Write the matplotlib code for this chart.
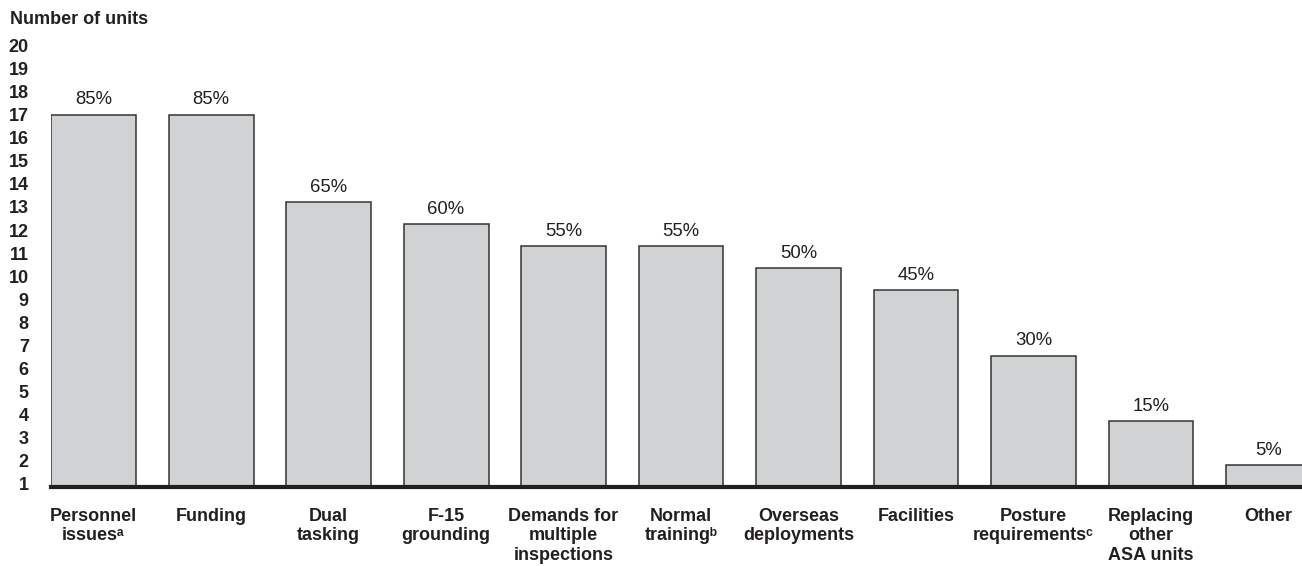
import matplotlib
matplotlib.use('Agg')
import matplotlib.pyplot as plt
import numpy as np

plt.rcParams['font.family'] = ['Liberation Sans', 'DejaVu Sans']

# Data: number of units (out of 20) citing each factor
categories = [
    'Personnel\nissues\u1d43',
    'Funding',
    'Dual\ntasking',
    'F-15\ngrounding',
    'Demands for\nmultiple\ninspections',
    'Normal\ntraining\u1d47',
    'Overseas\ndeployments',
    'Facilities',
    'Posture\nrequirements\u1d9c',
    'Replacing\nother\nASA units',
    'Other',
]
units = [17, 17, 13, 12, 11, 11, 10, 9, 6, 3, 1]
total_units = 20
tick_labels = [str(k) for k in range(1, 21)]

W, H = 1302, 566
fig = plt.figure(figsize=(W / 100, H / 100), dpi=100)
ax = fig.add_axes([51 / W, (H - 487) / H, 1251 / W, (487 - 38) / H])

x = np.arange(len(categories))
bars = ax.bar(x, units, width=0.723, color='#d1d2d4',
              edgecolor='#333333', linewidth=1.1, zorder=2)

# percentage labels above bars
for b, u in zip(bars, units):
    ax.annotate(f'{u / total_units * 100:.0f}%',
                (b.get_x() + b.get_width() / 2, b.get_height()),
                xytext=(0, 4.5), textcoords='offset points',
                ha='center', va='bottom', fontsize=13.3, color='#231f20')

ax.set_xlim(-0.362, 10.285)
ax.set_ylim(0, 20.5)

# thick baseline
ax.axhline(0, color='#231f20', linewidth=3, zorder=3, clip_on=False)

ax.set_xticks(x)
ax.set_xticklabels(categories, fontsize=13, fontweight='bold',
                   color='#231f20', va='top', linespacing=1.2)
ax.set_yticks(np.linspace(0.14, 20.16, 20))
ax.set_yticklabels(tick_labels, fontsize=13, fontweight='bold',
                   color='#231f20')
ax.tick_params(axis='x', length=0, pad=15)
ax.tick_params(axis='y', length=0, pad=16)

for s in ax.spines.values():
    s.set_visible(False)

fig.text(10 / W, 1 - 24 / H, 'Number of units', fontsize=13,
         fontweight='bold', color='#231f20', ha='left', va='baseline')

fig.savefig('out.png', dpi=100)
plt.close(fig)
